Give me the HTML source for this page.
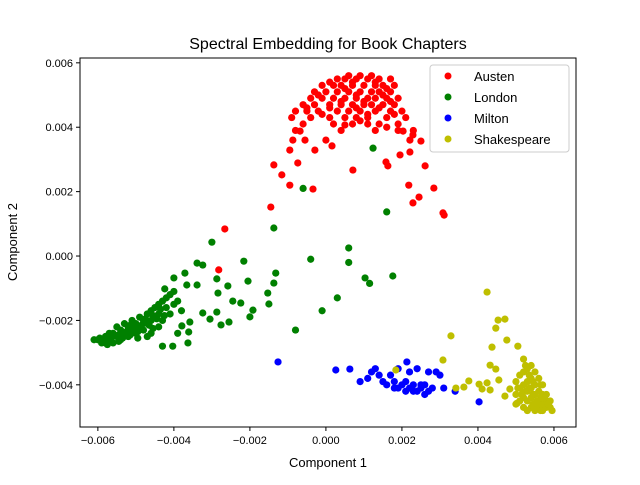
<!DOCTYPE html>
<html><head><meta charset="utf-8"><style>
body{margin:0;background:#fff;}
svg text{font-family:"Liberation Sans",sans-serif;}
</style></head><body>
<svg id="chart" width="640" height="480" viewBox="0 0 640 480">
<rect width="640" height="480" fill="#fff"/>
<text x="328" y="49" font-size="16" text-anchor="middle">Spectral Embedding for Book Chapters</text>
<g id="marks"></g>
<g id="axes"></g>
<text x="328" y="467" font-size="13" text-anchor="middle">Component 1</text>
<text transform="translate(17,242) rotate(-90)" font-size="13" text-anchor="middle">Component 2</text>
<g>
<rect x="430" y="65" width="139" height="87" rx="3" fill="#fff" fill-opacity="0.8" stroke="#ccc"/>
<g><circle cx="448" cy="76" r="3.5" fill="#ff0000"/><text x="474" y="81" font-size="13">Austen</text></g>
<g><circle cx="448" cy="97" r="3.5" fill="#008000"/><text x="474" y="102" font-size="13">London</text></g>
<g><circle cx="448" cy="118" r="3.5" fill="#0000ff"/><text x="474" y="123" font-size="13">Milton</text></g>
<g><circle cx="448" cy="139" r="3.5" fill="#bfbf00"/><text x="474" y="144" font-size="13">Shakespeare</text></g>
</g>
</svg>
<script>
const xTicks=[-0.006,-0.004,-0.002,0,0.002,0.004,0.006];
const xTickLabels=["−0.006","−0.004","−0.002","0.000","0.002","0.004","0.006"];
const yTicks=[-0.004,-0.002,0,0.002,0.004,0.006];
const yTickLabels=["−0.004","−0.002","0.000","0.002","0.004","0.006"];
const austen=[[0.0006,0.0056],[0.0009,0.0056],[0.0012,0.0056],
[0.0003,0.0055],[0.0005,0.0055],[0.0008,0.0055],[0.0011,0.0055],[0.0014,0.0055],[0.0017,0.0055],
[-0.0001,0.0053],[0.0002,0.0053],[0.0004,0.0053],[0.0007,0.0053],[0.0010,0.0053],[0.0013,0.0053],[0.0015,0.0053],[0.0018,0.0053],
[-0.0003,0.0051],[0.0000,0.0051],[0.0003,0.0051],[0.0006,0.0051],[0.0009,0.0051],[0.0012,0.0051],[0.0014,0.0051],[0.0017,0.0051],
[-0.0004,0.0049],[-0.0001,0.0049],[0.0002,0.0049],[0.0005,0.0049],[0.0008,0.0049],[0.0011,0.0049],[0.0013,0.0049],[0.0016,0.0049],[0.0019,0.0049],
[-0.0006,0.0047],[-0.0003,0.0047],[0.0001,0.0047],[0.0004,0.0047],[0.0007,0.0047],[0.0010,0.0047],[0.0012,0.0047],[0.0015,0.0047],[0.0018,0.0047],
[-0.0008,0.0045],[-0.0005,0.0045],[-0.0002,0.0045],[0.0003,0.0045],[0.0006,0.0045],[0.0009,0.0045],[0.0013,0.0045],[0.0017,0.0045],[0.0020,0.0045],
[-0.0009,0.0043],[-0.0004,0.0043],[0.0001,0.0043],[0.0005,0.0043],[0.0008,0.0043],[0.0011,0.0043],[0.0016,0.0043],[0.0021,0.0043],
[-0.0006,0.0041],[0.0002,0.0041],[0.0007,0.0041],[0.0011,0.0041],[0.0014,0.0041],[0.0019,0.0041],
[-0.0008,0.0039],[0.0004,0.0039],[0.0013,0.0039],[0.0019,0.0039],[0.0023,0.0039],
[0.0001,0.0054],[0.0007,0.0054],[0.0013,0.0054],[0.0016,0.0052],[0.0005,0.0052],[-0.0002,0.0050],[0.0008,0.0050],[0.0015,0.0050],[0.0004,0.0048],[0.0010,0.0048],[0.0017,0.0048],[-0.0005,0.0046],[0.0001,0.0046],[0.0008,0.0046],[0.0014,0.0046],[0.0011,0.0044],[0.0018,0.0044],[-0.0001,0.0044],[0.0009,0.0042],[0.0016,0.0040],
[-0.00137,0.00283],[-0.00116,0.00252],[-0.00095,0.00220],[-0.00145,0.00152],[-0.00034,0.00208],[-0.00074,0.00289],
[-0.00029,0.00329],[-0.00055,0.00360],[-0.00095,0.00329],[-0.00087,0.00360],[-0.00068,0.00388],[0.0000,0.00360],
[0.00016,0.00342],[0.00050,0.00407],[0.00071,0.00267],[0.00158,0.00292],[0.00163,0.00280],[0.00218,0.00220],
[0.00245,0.00183],[0.00229,0.00165],[0.00284,0.00211],[0.00261,0.00280],[0.00203,0.00388],[0.00221,0.00360],
[0.00221,0.00323],[0.00229,0.00376],[0.00250,0.00357],[0.00195,0.00314],[0.00308,0.00134],[0.00311,0.00127],
[-0.00266,0.00084],[-0.00282,-0.00043]];
const london=[[-0.0060,-0.0026],[-0.0059,-0.0027],[-0.0058,-0.0025],[-0.0057,-0.0026],[-0.0056,-0.0027],[-0.0056,-0.0024],[-0.0055,-0.0025],[-0.0054,-0.0026],[-0.0054,-0.0023],[-0.0053,-0.0024],[-0.0052,-0.0025],[-0.0052,-0.0022],[-0.0051,-0.0023],[-0.0050,-0.0024],[-0.0050,-0.0021],[-0.0049,-0.0022],[-0.0049,-0.0019],[-0.0048,-0.0020],[-0.0048,-0.0023],[-0.0047,-0.0018],[-0.0047,-0.0021],[-0.0046,-0.0017],[-0.0046,-0.0020],[-0.0045,-0.0016],[-0.0045,-0.0019],[-0.0044,-0.0015],[-0.0044,-0.0018],[-0.0043,-0.0014],[-0.0043,-0.0020],[-0.0042,-0.0013],[-0.0042,-0.0016],[-0.0041,-0.0012],[-0.0041,-0.0018],[-0.0040,-0.0011],[-0.0040,-0.0015],[-0.0039,-0.0014],[-0.0038,-0.0017],[-0.0053,-0.0021],[-0.0055,-0.0022],[-0.0057,-0.0024],[-0.0051,-0.0020],[-0.0046,-0.0024],[-0.0044,-0.0022],[-0.0058,-0.0027],[-0.0061,-0.0026],[-0.0047,-0.0025],[-0.0043,-0.0028],[-0.0039,-0.0024],
[-0.00595,-0.00255],[-0.00585,-0.00265],[-0.00565,-0.00255],[-0.00545,-0.00245],[-0.00535,-0.00255],[-0.00525,-0.00235],[-0.00515,-0.00245],[-0.00505,-0.00225],[-0.00495,-0.00235],[-0.00485,-0.00215],[-0.00475,-0.00195],[-0.00465,-0.00215],[-0.00455,-0.00185],[-0.00455,-0.00225],[-0.00445,-0.00195],[-0.00435,-0.00165],[-0.00425,-0.00185],[-0.00515,-0.00215],[-0.00545,-0.00265],[-0.00575,-0.00275],[-0.00495,-0.00255],
[-0.00339,-0.00022],[-0.00324,-0.00028],[-0.00216,-0.00016],[-0.00132,-0.00053],[-0.00137,-0.00084],[-0.00153,-0.00115],[-0.00150,-0.00149],[-0.00192,-0.00168],[-0.00200,-0.00189],[-0.00245,-0.00140],[-0.00224,-0.00146],[-0.00258,-0.00093],[-0.00287,-0.00071],[-0.00284,-0.00115],[-0.00287,-0.00174],[-0.00255,-0.00205],[-0.00276,-0.00214],[-0.00205,-0.00078],[-0.00403,-0.00280],[-0.00363,-0.00270],[-0.00361,-0.00236],[-0.00379,-0.00217],[-0.00358,-0.00205],[-0.00324,-0.00177],[-0.00305,-0.00196],[-0.00339,-0.00090],[-0.00366,-0.00090],[-0.00371,-0.00053],[-0.00400,-0.00068],[-0.00424,-0.00102],
[-0.0006,0.0021],[0.0016,0.00137],[0.00124,0.00335],[0.0006,0.00025],[0.00103,-0.00068],[0.00176,-0.00062],[0.0006,-0.0002],[0.0003,-0.0013],[-0.0001,-0.0017],[-0.0004,-0.0001],[-0.0008,-0.0023],[-0.00137,0.00087],[-0.003,0.00043],[0.00115,-0.00085]];
const milton=[[-0.00126,-0.00329],[0.00026,-0.00354],[0.00063,-0.00351],[0.0009,-0.0039],[0.00403,-0.00453],[0.00213,-0.00329],[0.0012,-0.0036],[0.0013,-0.0035],[0.0014,-0.0037],[0.0011,-0.0038],[0.0015,-0.0039],[0.0016,-0.0040],[0.0018,-0.0039],[0.0019,-0.0041],[0.0020,-0.0040],[0.0021,-0.0039],[0.0022,-0.0041],[0.0023,-0.0040],[0.0024,-0.0042],[0.0025,-0.0041],[0.0026,-0.0040],[0.0027,-0.0042],[0.0028,-0.0041],[0.0019,-0.0035],[0.0022,-0.0036],[0.0024,-0.0035],[0.0027,-0.0036],[0.0029,-0.0036],[0.0031,-0.0041],[0.0034,-0.0042],[0.0017,-0.0037],[0.0021,-0.0042],[0.0026,-0.0043],[0.0030,-0.0037],[0.0023,-0.0042],[0.0025,-0.0040],[0.0018,-0.0041]];
const shakespeare=[[0.00424,-0.00112],[0.00453,-0.00199],[0.00471,-0.00196],[0.00447,-0.00224],[0.00329,-0.00248],[0.00476,-0.00261],[0.00437,-0.00283],[0.00505,-0.00280],[0.00308,-0.00323],[0.00432,-0.00339],[0.00447,-0.00351],[0.00376,-0.00388],[0.00363,-0.00407],[0.00342,-0.00410],[0.00403,-0.00398],[0.00411,-0.00413],[0.00424,-0.00394],[0.00432,-0.00416],[0.00455,-0.00385],[0.00471,-0.00435],[0.00484,-0.00413],[0.00503,-0.00457],[0.00184,-0.00354],
[0.0052,-0.0032],[0.0052,-0.0036],[0.0052,-0.0040],[0.0052,-0.0044],[0.0052,-0.0047],
[0.0054,-0.0034],[0.0054,-0.0038],[0.0054,-0.0041],[0.0054,-0.0044],[0.0054,-0.0047],
[0.0055,-0.0036],[0.0055,-0.0040],[0.0055,-0.0043],[0.0055,-0.0046],[0.0055,-0.0048],
[0.0056,-0.0038],[0.0056,-0.0042],[0.0056,-0.0045],[0.0056,-0.0047],
[0.0057,-0.0040],[0.0057,-0.0043],[0.0057,-0.0046],[0.0057,-0.0048],
[0.0058,-0.0043],[0.0058,-0.0045],[0.0058,-0.0047],[0.0059,-0.0045],[0.0059,-0.0047],
[0.0053,-0.0035],[0.0053,-0.0039],[0.0053,-0.0042],[0.0053,-0.0045],[0.0053,-0.0048],
[0.0051,-0.0037],[0.0051,-0.0041],[0.0051,-0.0045],[0.0050,-0.0039],[0.0050,-0.0043],[0.0050,-0.0046],
[0.00525,-0.0034],[0.00535,-0.0037],[0.00545,-0.0039],[0.00545,-0.0043],[0.00535,-0.0041],[0.00525,-0.0042],[0.00565,-0.0040],[0.00565,-0.0044],[0.00555,-0.0045],[0.00575,-0.0044],[0.00585,-0.0046],[0.00595,-0.0048],[0.00515,-0.0043],[0.00545,-0.0046],[0.00565,-0.0048],[0.00505,-0.0041]];
const L=80,R=576,T=58,B=427,X0=-0.00647,X1=0.00658,Y0=-0.00531,Y1=0.00615;
function sx(v){return L+(v-X0)/(X1-X0)*(R-L);}
function sy(v){return B-(v-Y0)/(Y1-Y0)*(B-T);}
const NS="http://www.w3.org/2000/svg";
const marks=document.getElementById('marks');
function series(data,color,name){
  const g=document.createElementNS(NS,'g');
  
  
  data.forEach(p=>{
    const c=document.createElementNS(NS,'circle');
    c.setAttribute('cx',sx(p[0]));c.setAttribute('cy',sy(p[1]));c.setAttribute('r',3.6);c.setAttribute('fill',color);
    
    
    g.appendChild(c);
  });
  marks.appendChild(g);
}
series(austen,'#ff0000','series-austen');
series(london,'#008000','series-london');
series(milton,'#0000ff','series-milton');
series(shakespeare,'#bfbf00','series-shakespeare');
const axes=document.getElementById('axes');
axes.innerHTML='<rect x="'+L+'" y="'+T+'" width="'+(R-L)+'" height="'+(B-T)+'" fill="none" stroke="#000" stroke-width="1"/>';


xTicks.forEach((v,i)=>{
  const x=sx(v);
  const t=document.createElementNS(NS,'line');
  t.setAttribute('x1',x);t.setAttribute('x2',x);t.setAttribute('y1',B);t.setAttribute('y2',B+4);t.setAttribute('stroke','#000');
  
  
  axes.appendChild(t);
  const l=document.createElementNS(NS,'text');
  l.setAttribute('x',x);l.setAttribute('y',B+17);l.setAttribute('font-size','11');l.setAttribute('text-anchor','middle');
  l.textContent=xTickLabels[i];
  
  
  axes.appendChild(l);
});
yTicks.forEach((v,i)=>{
  const y=sy(v);
  const t=document.createElementNS(NS,'line');
  t.setAttribute('x1',L-4);t.setAttribute('x2',L);t.setAttribute('y1',y);t.setAttribute('y2',y);t.setAttribute('stroke','#000');
  
  
  axes.appendChild(t);
  const l=document.createElementNS(NS,'text');
  l.setAttribute('x',L-7);l.setAttribute('y',y+4);l.setAttribute('font-size','11');l.setAttribute('text-anchor','end');
  l.textContent=yTickLabels[i];
  
  
  axes.appendChild(l);
});
</script>
</body></html>
